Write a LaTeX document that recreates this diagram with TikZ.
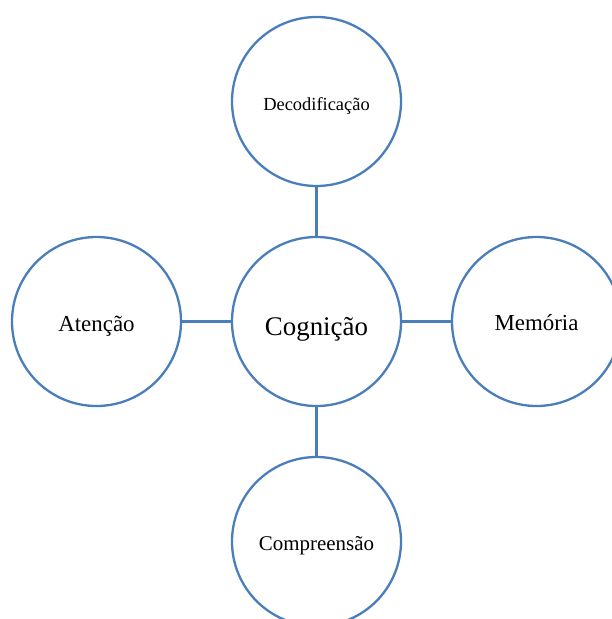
\documentclass[tikz,border=0pt]{standalone}
\usepackage{fontspec}
\setmainfont{Liberation Serif}
\definecolor{circblue}{RGB}{74,126,187}

\begin{document}
\begin{tikzpicture}[x=1bp,y=-1bp]

        \useasboundingbox (0,0) rectangle (612,619);
        \clip (0,0) rectangle (612,619);

        \begin{scope}[every node/.style={circle,draw=circblue,line width=2.3bp,minimum size=169bp,inner sep=0pt,text depth=0pt}]
            \node[font=\fontsize{27}{30}\selectfont,text height=27bp] (1) at (316.5,321.5) {Cogni\c{c}\~ao};
            \node[font=\fontsize{18.5}{21}\selectfont,text height=19bp] (2) at (316.5,101.5) {Decodifica\c{c}\~ao};
            \node[font=\fontsize{23}{26}\selectfont,text height=17bp] (3) at (536.5,321.5) {Mem\'oria};
            \node[font=\fontsize{21}{24}\selectfont,text height=18bp] (4) at (316.5,541.5) {Compreens\~ao};
            \node[font=\fontsize{23}{26}\selectfont,text height=20bp] (5) at (96.5,321.5) {Aten\c{c}\~ao};
        \end{scope}

        \begin{scope}[every edge/.style={draw=circblue,line width=2.2bp}]
            \path (1) edge (2);
            \path (1) edge (3);
            \path (1) edge (4);
            \path (1) edge (5);
        \end{scope}

    \end{tikzpicture}
\end{document}
